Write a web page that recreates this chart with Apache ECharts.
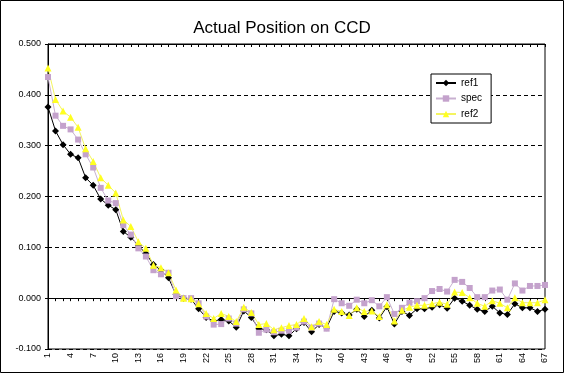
<!DOCTYPE html>
<html>
<head>
<meta charset="utf-8">
<script src="https://cdn.jsdelivr.net/npm/echarts@6/dist/echarts.min.js"></script>
<style>
html,body{margin:0;padding:0;background:#fff;}
#chart{width:564px;height:373px;}
</style>
</head>
<body>
<div id="chart"></div>
<script>
const categories = ['1','2','3','4','5','6','7','8','9','10','11','12','13','14','15','16','17','18','19','20',
'21','22','23','24','25','26','27','28','29','30','31','32','33','34','35','36','37','38','39','40',
'41','42','43','44','45','46','47','48','49','50','51','52','53','54','55','56','57','58','59','60',
'61','62','63','64','65','66','67'];

const ref1 = [0.376,0.329,0.302,0.283,0.276,0.237,0.222,0.195,0.183,0.174,
0.131,0.120,0.103,0.088,0.066,0.055,0.040,0.007,0.000,-0.002,
-0.021,-0.038,-0.045,-0.042,-0.045,-0.057,-0.025,-0.038,-0.060,-0.062,
-0.074,-0.071,-0.074,-0.060,-0.048,-0.066,-0.052,-0.058,-0.026,-0.029,
-0.033,-0.022,-0.036,-0.024,-0.039,-0.017,-0.051,-0.026,-0.034,-0.021,
-0.021,-0.018,-0.013,-0.020,0.000,-0.006,-0.014,-0.022,-0.026,-0.016,
-0.029,-0.032,-0.011,-0.019,-0.019,-0.026,-0.022];

const spec = [0.435,0.359,0.339,0.332,0.312,0.283,0.257,0.217,0.192,0.187,
0.144,0.125,0.098,0.082,0.055,0.047,0.050,0.004,0.000,0.000,
-0.010,-0.036,-0.052,-0.051,-0.040,-0.050,-0.022,-0.030,-0.068,-0.062,
-0.067,-0.064,-0.064,-0.058,-0.046,-0.058,-0.050,-0.060,-0.002,-0.010,
-0.015,-0.003,-0.010,-0.004,-0.016,0.002,-0.031,-0.019,-0.009,-0.006,
0.000,0.014,0.018,0.013,0.036,0.032,0.020,0.002,0.002,0.015,
0.017,-0.003,0.029,0.015,0.024,0.024,0.026];

const ref2 = [0.453,0.391,0.368,0.356,0.336,0.294,0.269,0.237,0.222,0.207,
0.154,0.141,0.111,0.098,0.065,0.060,0.050,0.016,0.000,-0.001,
-0.011,-0.030,-0.040,-0.030,-0.036,-0.046,-0.018,-0.028,-0.052,-0.050,
-0.062,-0.058,-0.054,-0.052,-0.040,-0.056,-0.046,-0.052,-0.022,-0.026,
-0.034,-0.019,-0.026,-0.025,-0.036,-0.013,-0.045,-0.024,-0.018,-0.014,
-0.014,-0.011,-0.008,-0.012,0.012,0.011,0.001,-0.010,-0.016,-0.005,
-0.010,-0.019,0.001,-0.009,-0.009,-0.009,-0.003];

const yTicks = [-0.1, 0.0, 0.1, 0.2, 0.3, 0.4, 0.5];

const chart = echarts.init(document.getElementById('chart'), null, {renderer:'canvas'});
const font = 'Arial, "Liberation Sans", sans-serif';
chart.setOption({
  animation: false,
  backgroundColor: '#fff',
  textStyle: {fontFamily: font, color: '#000'},
  title: {
    text: 'Actual Position on CCD',
    left: 'center',
    top: 15,
    textStyle: {fontFamily: font, fontSize: 17, fontWeight: 'normal', color: '#000'}
  },
  graphic: [{
    type: 'rect', z: 100, silent: true,
    shape: {x: 0.5, y: 0.5, width: 563, height: 372},
    style: {fill: 'none', stroke: '#000', lineWidth: 1}
  }],
  legend: {
    orient: 'vertical',
    left: 431, top: 74,
    padding: [4, 9, 4, 4],
    itemGap: 5.5,
    itemWidth: 20, itemHeight: 8,
    borderColor: '#000', borderWidth: 1,
    backgroundColor: '#fff',
    textStyle: {fontFamily: font, fontSize: 10, lineHeight: 10, color: '#000'},
    data: ['ref1', 'spec', 'ref2']
  },
  grid: {
    left: 48, right: 19, top: 44, bottom: 24,
    show: true, borderColor: '#000', borderWidth: 1, backgroundColor: 'transparent'
  },
  xAxis: [{
    type: 'category',
    data: categories,
    boundaryGap: false,
    axisLine: {onZero: true, lineStyle: {color: '#000', width: 1}},
    axisTick: {show: true, interval: 0, length: 3, lineStyle: {color: '#000'}},
    axisLabel: {interval: 2, rotate: 90, fontSize: 9, color: '#000', margin: 4, fontFamily: font},
    splitLine: {show: false}
  }, {
    type: 'category',
    data: categories,
    boundaryGap: false,
    axisLine: {onZero: true, lineStyle: {color: '#000', width: 1}},
    axisTick: {show: true, inside: true, interval: 0, length: 3, lineStyle: {color: '#000'}},
    axisLabel: {show: false},
    splitLine: {show: false}
  }],
  yAxis: {
    type: 'value',
    min: yTicks[0], max: yTicks[yTicks.length - 1], interval: 0.1,
    axisLine: {show: true, lineStyle: {color: '#000'}},
    axisTick: {show: true, length: 3, lineStyle: {color: '#000'}},
    axisLabel: {fontSize: 9, color: '#000', margin: 7, fontFamily: font,
      formatter: v => v.toFixed(3)},
    splitLine: {show: true, lineStyle: {color: '#000', type: [4, 3], width: 1}}
  },
  series: [{
    name: 'ref1', type: 'line', data: ref1, xAxisIndex: 0,
    symbol: 'diamond', symbolSize: 7, showAllSymbol: true,
    itemStyle: {color: '#000'},
    lineStyle: {color: '#000', width: 1}
  }, {
    name: 'spec', type: 'line', data: spec, xAxisIndex: 0,
    symbol: 'rect', symbolSize: 6, showAllSymbol: true,
    itemStyle: {color: '#c4a2cc'},
    lineStyle: {color: '#c8b0d0', width: 1}
  }, {
    name: 'ref2', type: 'line', data: ref2, xAxisIndex: 0,
    symbol: 'triangle', symbolSize: 7, showAllSymbol: true,
    itemStyle: {color: '#ffff20'},
    lineStyle: {color: '#f4f460', width: 1}
  }]
});
</script>
</body>
</html>
